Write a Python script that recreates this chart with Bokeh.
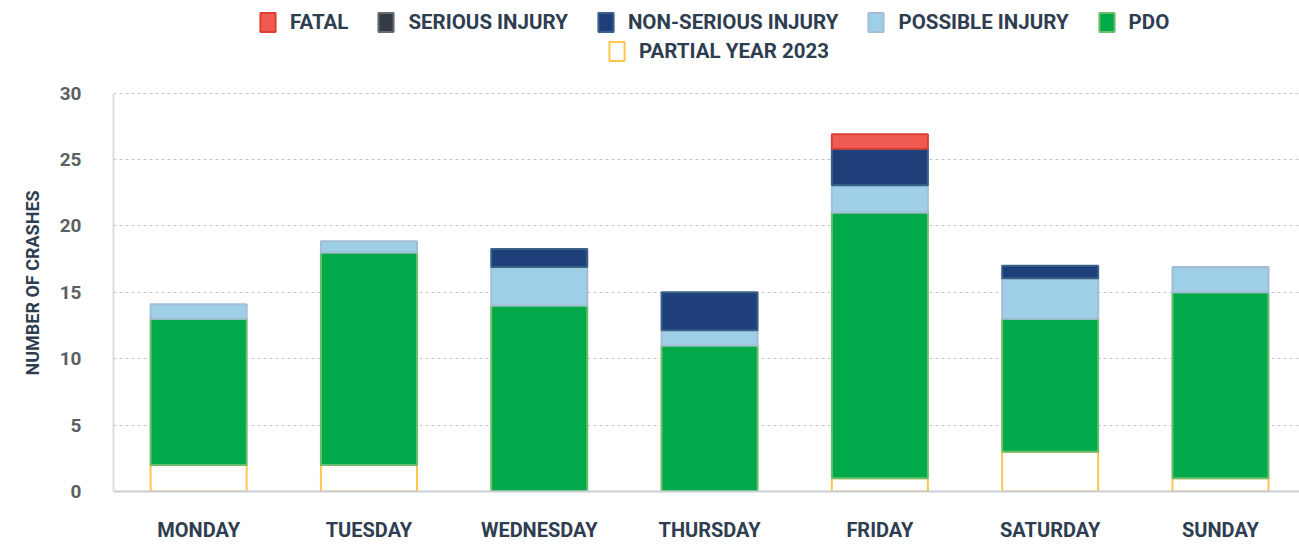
from bokeh.plotting import figure
from bokeh.models import Range1d, FixedTicker, Legend, LegendItem, ColumnDataSource, Title
from bokeh.embed import file_html
from bokeh.resources import INLINE

# ---- data ----
days = ["MONDAY", "TUESDAY", "WEDNESDAY", "THURSDAY", "FRIDAY", "SATURDAY", "SUNDAY"]
partial_2023 = [2, 2, 0, 0, 1, 3, 1]
pdo = [11, 16, 14, 11, 20, 10, 14]
possible_injury = [1.1, 0.85, 2.9, 1.15, 2.05, 3.05, 1.9]
non_serious_injury = [0, 0, 1.35, 2.85, 2.75, 0.95, 0]
serious_injury = [0, 0, 0, 0, 0, 0, 0]
fatal = [0, 0, 0, 0, 1.1, 0, 0]
y_ticks = [0, 5, 10, 15, 20, 25, 30]

NAVY = "#2E3D50"
FONT = "Roboto"

x = list(range(len(days)))

# frame spans the full height above the axis so the legend (inside the frame) is not clipped
p = figure(width=1299, height=544,
           x_range=Range1d(-0.5, 6.464), y_range=Range1d(0, 36.97),
           output_backend="svg", toolbar_location=None,
           min_border_left=113, min_border_right=0,
           min_border_top=0, min_border_bottom=53)
p.outline_line_color = None
p.background_fill_color = "white"
p.border_fill_color = "white"

series = [
    ("PARTIAL YEAR 2023", partial_2023, "#FFFFFF", "#FFC54F"),
    ("PDO", pdo, "#00AA4A", "#6DBE6C"),
    ("POSSIBLE INJURY", possible_injury, "#9FCFE6", "#A3BDD6"),
    ("NON-SERIOUS INJURY", non_serious_injury, "#1F3F7A", "#3A6188"),
    ("SERIOUS INJURY", serious_injury, "#353B44", "#686D75"),
    ("FATAL", fatal, "#EF5B50", "#DD3F36"),
]

nan = float("nan")
base = [0.0] * len(days)
renderers = {}
for name, vals, fill, line in series:
    xs, bots, tops = [], [], []
    for i, v in enumerate(vals):
        if v > 0:
            xs.append(x[i])
            bots.append(base[i])
            tops.append(base[i] + v)
        base[i] += v
    if not xs:  # series with no crashes: keep a non-drawn row so the legend swatch shows
        xs, bots, tops = [x[0]], [nan], [nan]
    src = ColumnDataSource(dict(x=xs, bottom=bots, top=tops))
    r = p.vbar(x="x", bottom="bottom", top="top", width=0.564, source=src,
               fill_color=fill, line_color=line, line_width=2)
    renderers[name] = r

leg_style = dict(orientation="horizontal", glyph_width=19, glyph_height=24,
                 label_standoff=13, spacing=28, padding=0, margin=0,
                 border_line_color=None, background_fill_alpha=0,
                 label_text_font=FONT, label_text_font_style="bold",
                 label_text_font_size="20.5px", label_text_color=NAVY,
                 label_height=24)
row1 = ["FATAL", "SERIOUS INJURY", "NON-SERIOUS INJURY", "POSSIBLE INJURY", "PDO"]
leg1 = Legend(items=[LegendItem(label=n, renderers=[renderers[n]]) for n in row1],
              location=(145, 457), **leg_style)
leg2 = Legend(items=[LegendItem(label="PARTIAL YEAR 2023", renderers=[renderers["PARTIAL YEAR 2023"]])],
              location=(494, 428), **leg_style)
p.add_layout(leg1, "center")
p.add_layout(leg2, "center")

# y axis
p.yaxis.ticker = FixedTicker(ticks=y_ticks)
p.yaxis.bounds = (0, 30)
p.yaxis.major_label_text_font = FONT
p.yaxis.major_label_text_font_style = "bold"
p.yaxis.major_label_text_font_size = "19px"
p.yaxis.major_label_text_color = "#5B5F63"
p.yaxis.major_label_standoff = 26
p.yaxis.major_tick_line_color = None
p.yaxis.minor_tick_line_color = None
p.yaxis.axis_line_color = "#D8DFE5"
p.yaxis.axis_line_width = 2

# y axis title, placed along the 0-30 part of the axis
ytitle = Title(text="NUMBER OF CRASHES", align="left", offset=116, standoff=27,
               text_font=FONT, text_font_style="bold", text_font_size="18px",
               text_color=NAVY)
p.add_layout(ytitle, "left")

p.ygrid.ticker = FixedTicker(ticks=y_ticks[1:])
p.ygrid.grid_line_dash = "3 3"
p.ygrid.grid_line_color = "#BFC8D0"
p.xgrid.grid_line_color = None

# x axis
p.xaxis.ticker = FixedTicker(ticks=x)
p.xaxis.major_label_overrides = {i: d for i, d in enumerate(days)}
p.xaxis.major_label_text_font = FONT
p.xaxis.major_label_text_font_style = "bold"
p.xaxis.major_label_text_font_size = "20px"
p.xaxis.major_label_text_color = NAVY
p.xaxis.major_label_standoff = 20
p.xaxis.major_tick_line_color = None
p.xaxis.minor_tick_line_color = None
p.xaxis.axis_line_color = "#C9CED2"
p.xaxis.axis_line_width = 2

open("out.html", "w").write(file_html(p, INLINE))
